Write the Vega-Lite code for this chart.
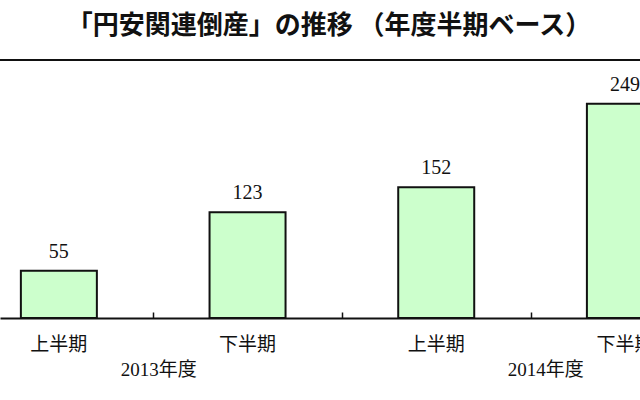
{
  "$schema": "https://vega.github.io/schema/vega-lite/v6.json",
  "width": 640,
  "height": 258,
  "autosize": {"type": "none"},
  "padding": {"top": 60, "left": 0, "right": 0, "bottom": 82},
  "background": "white",
  "title": {
    "text": "「円安関連倒産」の推移 （年度半期ベース）",
    "font": "Noto Sans CJK JP",
    "fontSize": 26,
    "fontWeight": "bold",
    "color": "#111",
    "anchor": "middle",
    "baseline": "bottom",
    "offset": -6,
    "dx": 9
  },
  "datasets": {
    "halves": [
      {"pos": 0, "half": "上半期", "count": 55},
      {"pos": 1, "half": "下半期", "count": 123},
      {"pos": 2, "half": "上半期", "count": 152},
      {"pos": 3, "half": "下半期", "count": 249}
    ],
    "years": [
      {"pos": 0.53, "year": "2013年度"},
      {"pos": 2.58, "year": "2014年度"}
    ]
  },
  "data": {"name": "halves"},
  "layer": [
    {
      "mark": {"type": "rule", "color": "#111", "strokeWidth": 2},
      "encoding": {"y": {"datum": 300, "type": "quantitative", "scale": {"domain": [0, 300], "nice": false}, "axis": null}}
    },
    {
      "mark": {"type": "bar", "width": 76, "fill": "#ccffcc", "stroke": "#111", "strokeWidth": 2},
      "encoding": {
        "x": {
          "field": "pos", "type": "quantitative",
          "scale": {"domain": [-0.312, 3.08], "nice": false, "zero": false, "padding": 0},
          "axis": {
            "values": [0.5, 1.5, 2.5],
            "labels": false,
            "title": null,
            "grid": false,
            "tickSize": -6,
            "tickColor": "#111",
            "tickWidth": 1.5,
            "domainColor": "#111",
            "domainWidth": 2
          }
        },
        "y": {"field": "count", "type": "quantitative", "scale": {"domain": [0, 300], "nice": false}, "axis": null}
      }
    },
    {
      "mark": {"type": "text", "baseline": "bottom", "dy": -9, "font": "Liberation Serif", "fontSize": 20, "color": "#111"},
      "encoding": {
        "x": {"field": "pos", "type": "quantitative"},
        "y": {"field": "count", "type": "quantitative"},
        "text": {"field": "count", "type": "quantitative"}
      }
    },
    {
      "mark": {"type": "text", "baseline": "middle", "dy": 27, "font": "Liberation Serif, Noto Sans CJK JP", "fontSize": 19, "color": "#111"},
      "encoding": {
        "x": {"field": "pos", "type": "quantitative"},
        "y": {"datum": 0, "type": "quantitative"},
        "text": {"field": "half", "type": "nominal"}
      }
    },
    {
      "data": {"name": "years"},
      "mark": {"type": "text", "baseline": "middle", "dy": 52, "font": "Liberation Serif, Noto Sans CJK JP", "fontSize": 19, "color": "#111"},
      "encoding": {
        "x": {"field": "pos", "type": "quantitative"},
        "y": {"datum": 0, "type": "quantitative"},
        "text": {"field": "year", "type": "nominal"}
      }
    }
  ],
  "config": {"view": {"stroke": null}}
}
